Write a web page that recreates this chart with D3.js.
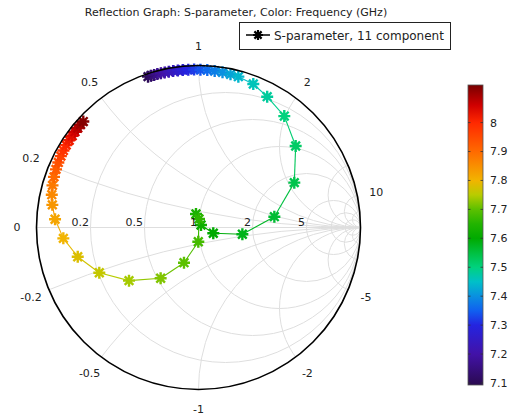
<!DOCTYPE html>
<html>
<head>
<meta charset="utf-8">
<script src="https://cdn.jsdelivr.net/npm/d3@7"></script>
<style>
  body { margin: 0; background: #fff; }
  svg { display: block; font-family: "DejaVu Sans", sans-serif; }
</style>
</head>
<body>
<svg id="chart" width="508" height="416"></svg>
<script>
// S11 sweep, frequency in GHz, magnitude and phase (deg)
const freqGHz = [7.10, 7.12, 7.14, 7.16, 7.18, 7.20, 7.22, 7.24, 7.26, 7.28,
                 7.30, 7.32, 7.34, 7.36, 7.38, 7.40, 7.42, 7.44, 7.46, 7.48,
                 7.50, 7.52, 7.54, 7.56, 7.58, 7.60, 7.62, 7.64, 7.66, 7.68,
                 7.70, 7.72, 7.74, 7.76, 7.78, 7.80, 7.82, 7.84, 7.86, 7.88,
                 7.90, 7.92, 7.94, 7.96, 7.98, 8.00, 8.02, 8.04, 8.06, 8.08,
                 8.10, 8.12];
const s11Mag = [0.982, 0.982, 0.981, 0.981, 0.980, 0.980, 0.979, 0.979, 0.978, 0.977,
                0.976, 0.975, 0.974, 0.973, 0.971, 0.969, 0.966, 0.963, 0.948, 0.912,
                0.868, 0.783, 0.653, 0.473, 0.274, 0.098, 0.022, 0.085, 0.053, 0.088,
                0.235, 0.391, 0.540, 0.673, 0.767, 0.837, 0.887, 0.913, 0.928, 0.938,
                0.945, 0.950, 0.954, 0.957, 0.960, 0.962, 0.963, 0.964, 0.965, 0.966,
                0.966, 0.966];
const s11PhaseDeg = [108.5, 107.4, 106.2, 105.0, 103.7, 102.3, 100.8, 99.2, 97.5, 95.7,
                     93.7, 91.6, 89.3, 86.8, 84.1, 81.2, 78.2, 75.2, 69.1, 62.3,
                     52.4, 40.0, 25.1, 8.1, -8.8, -21.4, 45.0, 100.5, 86.6, -90.8,
                     -112.4, -126.7, -142.6, -155.5, -166.4, -175.4, 176.7, 171.2, 167.4, 163.9,
                     160.7, 157.8, 155.1, 152.6, 150.3, 148.1, 146.0, 144.0, 142.2, 140.5,
                     138.9, 137.4];

// Smith grid
const resistanceGrid = [0.2, 0.5, 1, 2, 5, 10, 20];
const reactanceGrid = [0.2, 0.5, 1, 2, 5, 10, 20, -0.2, -0.5, -1, -2, -5, -10, -20];
const resistanceLabels = [0.2, 0.5, 1, 2, 5];
const reactanceLabels = [0, 0.2, 0.5, 1, 2, 10, -0.2, -0.5, -1, -2, -5];

// colour bar
const colorbarDomain = [7.093, 8.13];
const colorbarTicks = [7.1, 7.2, 7.3, 7.4, 7.5, 7.6, 7.7, 7.8, 7.9, 8.0];
const cmapFreq = [7.093, 7.2, 7.3, 7.35, 7.4, 7.45, 7.5, 7.55, 7.6, 7.65, 7.7, 7.75, 7.8, 7.9, 8.0, 8.06, 8.13];
const cmapColor = ['#2a0a50', '#4212a8', '#2424e0', '#1060f0', '#0a90e0', '#00c0c8', '#00d27e', '#00c040',
                   '#00aa00', '#22b400', '#5cc000', '#b8cc00', '#f2b400', '#ff6a00', '#ff2800', '#d00000', '#780000'];

const svg = d3.select('#chart');
const cx = 198.5, cy = 227.5, R = 162;

const x = d3.scaleLinear().domain([-1, 1]).range([cx - R, cx + R]);
const y = d3.scaleLinear().domain([-1, 1]).range([cy + R, cy - R]);
const color = d3.scaleLinear().domain(cmapFreq).range(cmapColor).interpolate(d3.interpolateRgb).clamp(true);

// title
svg.append('text')
    .attr('x', 236).attr('y', 16)
    .attr('text-anchor', 'middle')
    .attr('font-size', 11).attr('fill', '#222')
    .text('Reflection Graph: S-parameter, Color: Frequency (GHz)');

// clip for grid
svg.append('defs').append('clipPath').attr('id', 'unit')
    .append('circle').attr('cx', cx).attr('cy', cy).attr('r', R);

const grid = svg.append('g')
    .attr('clip-path', 'url(#unit)')
    .attr('fill', 'none').attr('stroke', '#dedede').attr('stroke-width', 1);

grid.append('line')
    .attr('x1', x(-1)).attr('x2', x(1))
    .attr('y1', y(0)).attr('y2', y(0));

grid.selectAll('circle.r')
    .data(resistanceGrid)
    .join('circle')
    .attr('class', 'r')
    .attr('cx', r => x(r / (r + 1)))
    .attr('cy', y(0))
    .attr('r', r => x(1 / (r + 1)) - x(0));

grid.selectAll('circle.x')
    .data(reactanceGrid)
    .join('circle')
    .attr('class', 'x')
    .attr('cx', x(1))
    .attr('cy', v => y(1 / v))
    .attr('r', v => x(1 / Math.abs(v)) - x(0));

// data
const pts = freqGHz.map((f, i) => {
    const a = s11PhaseDeg[i] * Math.PI / 180;
    return { f: f, re: s11Mag[i] * Math.cos(a), im: s11Mag[i] * Math.sin(a) };
});

svg.append('g')
    .selectAll('line')
    .data(d3.pairs(pts))
    .join('line')
    .attr('x1', d => x(d[0].re)).attr('y1', d => y(d[0].im))
    .attr('x2', d => x(d[1].re)).attr('y2', d => y(d[1].im))
    .attr('stroke', d => color((d[0].f + d[1].f) / 2))
    .attr('stroke-width', 1.1);

function starPath(s) {
    const d = s * 0.72;
    return `M${-s},0H${s}M0,${-s}V${s}M${-d},${-d}L${d},${d}M${-d},${d}L${d},${-d}`;
}

svg.append('g')
    .selectAll('path')
    .data(pts)
    .join('path')
    .attr('d', starPath(6))
    .attr('transform', d => `translate(${x(d.re)},${y(d.im)})`)
    .attr('fill', 'none')
    .attr('stroke', d => color(d.f))
    .attr('stroke-width', 2.4);

// outer circle
svg.append('circle')
    .attr('cx', cx).attr('cy', cy).attr('r', R)
    .attr('fill', 'none').attr('stroke', '#000').attr('stroke-width', 1.6);

// labels
const lab = svg.append('g').attr('font-size', 11).attr('fill', '#222');

lab.selectAll('text.r')
    .data(resistanceLabels)
    .join('text')
    .attr('class', 'r')
    .attr('x', r => x((r - 1) / (r + 1)) - 1.5)
    .attr('y', y(0) - 1.5)
    .attr('text-anchor', 'end')
    .text(r => r);

lab.selectAll('text.x')
    .data(reactanceLabels)
    .join('text')
    .attr('class', 'x')
    .attr('x', v => {
        const a = Math.PI - 2 * Math.atan(v);
        return cx + 1.12 * R * Math.cos(a);
    })
    .attr('y', v => {
        const a = Math.PI - 2 * Math.atan(v);
        return cy - 1.12 * R * Math.sin(a);
    })
    .attr('text-anchor', 'middle')
    .attr('dy', '0.36em')
    .text(v => v);

// legend
const leg = svg.append('g');
leg.append('rect')
    .attr('x', 239.5).attr('y', 22.5).attr('width', 211).attr('height', 27)
    .attr('fill', '#fff').attr('stroke', '#222').attr('stroke-width', 1);
leg.append('line')
    .attr('x1', 246).attr('x2', 270).attr('y1', 35).attr('y2', 35)
    .attr('stroke', '#000').attr('stroke-width', 1.5);
leg.append('path')
    .attr('d', starPath(5))
    .attr('transform', 'translate(258,35)')
    .attr('fill', 'none').attr('stroke', '#000').attr('stroke-width', 2.2);
leg.append('text')
    .attr('x', 274).attr('y', 39.5)
    .attr('font-size', 12).attr('fill', '#222')
    .text('S-parameter, 11 component');

// colour bar
const cbY = d3.scaleLinear().domain(colorbarDomain).range([385, 85]);
const grad = svg.select('defs').append('linearGradient')
    .attr('id', 'cbar').attr('x1', 0).attr('x2', 0).attr('y1', 1).attr('y2', 0);
grad.selectAll('stop')
    .data(cmapFreq)
    .join('stop')
    .attr('offset', f => (f - colorbarDomain[0]) / (colorbarDomain[1] - colorbarDomain[0]))
    .attr('stop-color', f => color(f));

svg.append('rect')
    .attr('x', 468).attr('y', cbY(colorbarDomain[1]))
    .attr('width', 15).attr('height', cbY(colorbarDomain[0]) - cbY(colorbarDomain[1]))
    .attr('fill', 'url(#cbar)')
    .attr('stroke', '#555').attr('stroke-width', 0.8);

const cbAxis = svg.append('g');
cbAxis.selectAll('line.l')
    .data(colorbarTicks)
    .join('line')
    .attr('x1', 468).attr('x2', 470.5)
    .attr('y1', f => cbY(f)).attr('y2', f => cbY(f))
    .attr('stroke', '#333').attr('stroke-width', 0.8);
cbAxis.selectAll('line.r')
    .data(colorbarTicks)
    .join('line')
    .attr('x1', 480.5).attr('x2', 483)
    .attr('y1', f => cbY(f)).attr('y2', f => cbY(f))
    .attr('stroke', '#333').attr('stroke-width', 0.8);
cbAxis.selectAll('text')
    .data(colorbarTicks)
    .join('text')
    .attr('x', 490).attr('y', f => cbY(f))
    .attr('dy', '0.36em')
    .attr('font-size', 11).attr('fill', '#222')
    .text(f => d3.format('~g')(f));
</script>
</body>
</html>
